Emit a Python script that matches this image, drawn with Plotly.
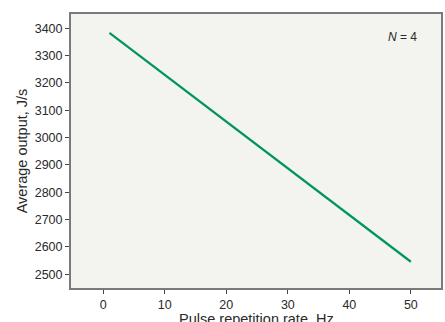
import plotly.graph_objects as go

rate_hz = [1, 50]
output_js = [3383, 2546]
x_ticks = [0, 10, 20, 30, 40, 50]
y_ticks = [2500, 2600, 2700, 2800, 2900, 3000, 3100, 3200, 3300, 3400]
x_title = "Pulse repetition rate, Hz"
y_title = "Average output, J/s"

fig = go.Figure()
fig.add_trace(go.Scatter(x=rate_hz, y=output_js, mode="lines",
                         line=dict(color="#00955f", width=2.2), showlegend=False))

axis_common = dict(showgrid=False, zeroline=False, ticks="outside", ticklen=4,
                   tickwidth=1, tickcolor="#444444", showline=True, linecolor="#7a7a7a",
                   linewidth=2, mirror=True, tickfont=dict(size=12.5, color="#2a2a2a"),
                   title_font=dict(size=14.5, color="#2a2a2a"), automargin=False)

fig.update_xaxes(range=[-5.25, 54.9], tickvals=x_ticks, **axis_common)
fig.update_yaxes(range=[2450, 3452], tickvals=y_ticks,
                 title=dict(text=y_title, standoff=4), **axis_common)

fig.add_annotation(x=0.5, y=-0.112, xref="paper", yref="paper", text=x_title,
                   showarrow=False, xanchor="center", yanchor="middle",
                   font=dict(size=14.5, color="#2a2a2a"))

fig.add_annotation(x=0.94, y=0.916, xref="paper", yref="paper", text="<i>N</i> = 4",
                   showarrow=False, xanchor="right", yanchor="middle",
                   font=dict(size=12, color="#2a2a2a", family="Arial, Liberation Sans"))

fig.update_layout(width=445, height=322, margin=dict(l=71, r=4, t=14, b=34),
                  paper_bgcolor="white", plot_bgcolor="#f3f3ef",
                  font=dict(family="Arial, Liberation Sans, sans-serif"))

fig.write_html("out.html", config={"displayModeBar": False},
               post_script="document.body.style.margin='0';document.body.style.overflow='hidden';")
